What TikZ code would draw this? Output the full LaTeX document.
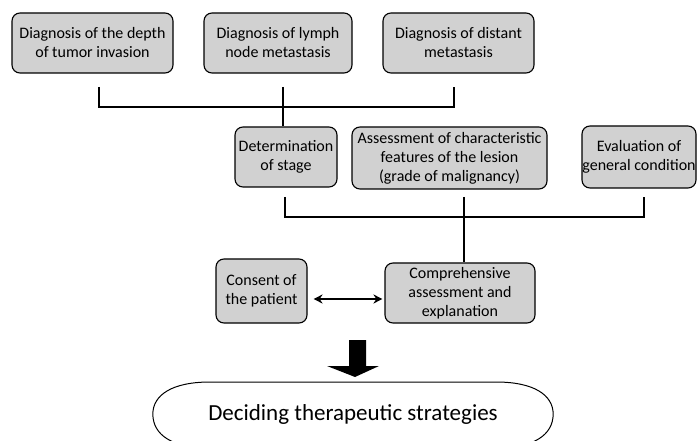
\documentclass[tikz,border=0pt]{standalone}
\usepackage{fontspec}
\setmainfont{Carlito}
\usetikzlibrary{arrows.meta}
\tikzset{
  box/.style={draw=black, line width=1.1pt, rounded corners=8pt, fill=black!18,
    align=center, inner sep=0pt, font=\fontsize{16}{19}\selectfont},
  conn/.style={draw=black, line width=2pt},
  dbl/.style={draw=black, line width=2pt, {Stealth[length=9pt,width=9pt]}-{Stealth[length=9pt,width=9pt]}},
}
\begin{document}
\begin{tikzpicture}[x=1pt,y=-1pt]
\useasboundingbox (0,0) rectangle (697,441);
% top row
\node[box, minimum width=161pt, minimum height=60pt] (b1) at (92.5,43) {Diagnosis of the depth\\of tumor invasion};
\node[box, minimum width=148pt, minimum height=60pt] (b2) at (278,43) {Diagnosis of lymph\\node metastasis};
\node[box, minimum width=151pt, minimum height=60pt] (b3) at (458.5,43) {Diagnosis of distant\\metastasis};
% second row
\node[box, minimum width=102pt, minimum height=60pt] (det) at (286,157) {Determination\\of stage};
\node[box, minimum width=195pt, minimum height=62pt] (ass) at (449.5,158) {Assessment of characteristic\\features of the lesion\\(grade of malignancy)};
\node[box, minimum width=114pt, minimum height=62pt] (ev) at (639,157) {Evaluation of\\general condition};
% third row
\node[box, minimum width=91pt, minimum height=64pt] (con) at (261.5,291) {Consent of\\the patient};
\node[box, minimum width=150pt, minimum height=60pt] (comp) at (460,293) {Comprehensive\\assessment and\\explanation};
% decision
\node[minimum width=400pt, minimum height=66pt, inner sep=0pt, font=\fontsize{23}{26}\selectfont] (dec) at (353,414) {Deciding therapeutic strategies};
\draw[line width=1pt] (dec.west) .. controls (153,395) and (172,382) .. (210,382) -- (496,382)
  .. controls (534,382) and (553,395) .. (dec.east)
  .. controls (553,435) and (534,448) .. (496,448) -- (210,448)
  .. controls (172,448) and (153,435) .. (dec.west);
% bracket 1
\coordinate (l1) at (99,87);
\coordinate (l2) at (283,87);
\coordinate (l3) at (454,87);
\coordinate (h1) at (99,107);
\coordinate (h3) at (454,107);
\draw[conn] (l1) -- (h1) -- (h3) -- (l3);
\draw[conn] (l2) -- (det.north -| l2);
% bracket 2
\coordinate (m1) at (285,197);
\coordinate (m2) at (464,197);
\coordinate (m3) at (644,197);
\coordinate (k1) at (285,217);
\coordinate (k3) at (644,217);
\draw[conn] (m1) -- (k1) -- (k3) -- (m3);
\draw[conn] (m2) -- (comp.north -| m2);
% double arrow
\draw[dbl] ([xshift=6pt]con.east |- 0,299) -- ([xshift=-2pt]comp.west |- 0,299);
% big arrow
\fill[black] (349,340) -- (366,340) -- (366,366) -- (379,366) -- (355,377) -- (327,366) -- (349,366) -- cycle;
\end{tikzpicture}
\end{document}
